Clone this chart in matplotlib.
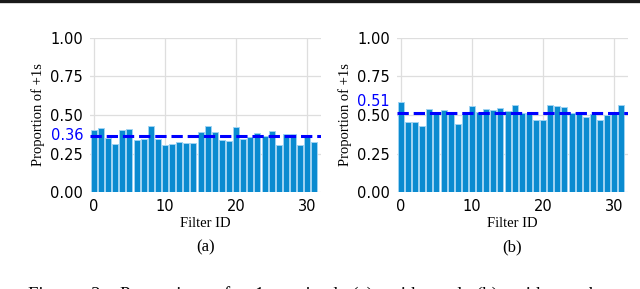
import numpy as np
import matplotlib
matplotlib.use('Agg')
import matplotlib.pyplot as plt
from matplotlib.lines import Line2D

# proportion of +1s per filter
filter_ids = list(range(32))
props_a = [0.401, 0.416, 0.352, 0.315, 0.405, 0.411, 0.339, 0.347,
           0.426, 0.343, 0.306, 0.310, 0.328, 0.319, 0.319, 0.388,
           0.432, 0.390, 0.339, 0.332, 0.420, 0.345, 0.355, 0.382,
           0.362, 0.400, 0.306, 0.375, 0.380, 0.306, 0.355, 0.326]
props_b = [0.585, 0.455, 0.455, 0.427, 0.539, 0.508, 0.533, 0.507,
           0.444, 0.507, 0.557, 0.517, 0.541, 0.535, 0.546, 0.529,
           0.568, 0.512, 0.511, 0.471, 0.465, 0.564, 0.560, 0.551,
           0.516, 0.519, 0.489, 0.505, 0.465, 0.503, 0.508, 0.565]
means = [0.365, 0.515]
mean_labels = ['0.36', '0.51']
panel_tags = ['(a)', '(b)']
yticks = [0.0, 0.25, 0.5, 0.75, 1.0]
xticks = [0, 10, 20, 30]
caption_words = ['Figure', '2:', 'Proportion', 'of', '\u00b11s', 'trained',
                 '(a)', 'with', 'and', '(b)', 'without', 'the']

serif = ['Liberation Serif', 'DejaVu Serif']
bar_color = '#0a8bd0'

fig = plt.figure(figsize=(6.4, 2.89), dpi=100)

# thick rule at the very top of the crop
fig.add_artist(Line2D([0, 1], [0.995, 0.995], color='#1a1a1a', linewidth=2.4))

positions = [[0.1406, 0.3346, 0.3605, 0.5346],
             [0.6203, 0.3346, 0.3605, 0.5346]]
label_offsets = [0, 8]

for i, (vals, pos) in enumerate(zip([props_a, props_b], positions)):
    ax = fig.add_axes(pos)
    ax.bar(filter_ids, vals, width=0.85, color=bar_color,
           edgecolor='#9fd3f2', linewidth=0.7, zorder=2)
    ax.axhline(means[i], color='#0000ff', linestyle='--', linewidth=2.2, zorder=3)
    ax.set_xlim(-0.55, 31.9)
    ax.set_ylim(0, 1.0)
    ax.set_yticks(yticks)
    ax.set_yticklabels([f'{t:.2f}' for t in yticks])
    ax.set_xticks(xticks)
    ax.tick_params(length=0, labelsize=10.5, pad=5)
    ax.grid(True, color='#dedede', linewidth=0.9, zorder=0)
    ax.set_axisbelow(True)
    for s in ax.spines.values():
        s.set_visible(False)
    ax.set_ylabel('Proportion of +1s', family=serif, fontsize=10.5, labelpad=4)
    ax.set_xlabel('Filter ID', family=serif, fontsize=10.5, labelpad=2)
    # mean value written next to the y axis in blue
    ax.annotate(mean_labels[i], xy=(0, means[i]),
                xycoords=('axes fraction', 'data'),
                xytext=(-5, label_offsets[i]), textcoords='offset points',
                ha='right', va='center', color='#0000ff', fontsize=10.5)
    fig.text(pos[0] + pos[2] / 2, 1 - 247 / 289, panel_tags[i],
             family=serif, fontsize=12, ha='center', va='center')

# caption is justified text in the paper and gets cut off by the bottom edge
fig.text(28 / 640, 1 - 286 / 289, '   '.join(caption_words), family=serif,
         fontsize=13.5, ha='left', va='top')

fig.savefig('out.png', dpi=100)
